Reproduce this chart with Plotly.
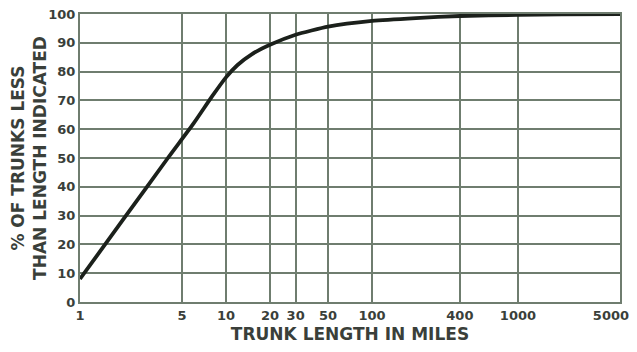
import numpy as np
import plotly.graph_objects as go

# Data
trunk_length = [1, 2, 4, 6, 8, 10, 12, 15, 20, 30, 50, 100, 200, 400, 1000, 2000, 5000]
pct_less = [8, 29, 50, 62, 71.3, 78, 82.3, 86, 89.3, 92.8, 95.6, 97.6, 98.6, 99.3, 99.7, 99.9, 100]

x_tickvals = [1, 5, 10, 20, 30, 50, 100, 400, 1000, 5000]
# the last label carries trailing no-break spaces so its digits stay inside the window
x_ticktext = ["1", "5", "10", "20", "30", "50", "100", "400", "1000", "5000\u00a0\u00a0\u00a0\u00a0"]
y_tickvals = [0, 10, 20, 30, 40, 50, 60, 70, 80, 90, 100]

grid_col = "#6f7d6f"
text_col = "#3a3f3a"
font_fam = "DejaVu Sans, Arial, sans-serif"

fig = go.Figure()
fig.add_trace(go.Scatter(
    x=trunk_length, y=pct_less, mode="lines",
    line=dict(color="#1b201b", width=3.8, shape="spline", smoothing=0.5),
    showlegend=False, hoverinfo="skip", cliponaxis=False,
))

# page body has an 8px margin, so the figure is sized to fit the window
fig.update_layout(
    width=629, height=336,
    margin=dict(l=72, r=17, t=6, b=42),
    paper_bgcolor="white", plot_bgcolor="white",
    font=dict(family=font_fam, color=text_col),
)
fig.update_xaxes(
    type="log", range=[0, np.log10(5000)], automargin=False,
    tickvals=x_tickvals, ticktext=x_ticktext, ticklabeloverflow="allow",
    showgrid=True, gridcolor=grid_col, gridwidth=1.6,
    showline=True, linecolor=grid_col, linewidth=2, mirror=True,
    zeroline=False, ticks="", ticklen=0,
    tickfont=dict(size=13, family=font_fam, color=text_col, weight="bold"),
    title=dict(text="<b>TRUNK LENGTH IN MILES</b>", font=dict(size=17, color=text_col), standoff=10),
)
fig.update_yaxes(
    range=[0, 100], tickvals=y_tickvals, automargin=False, ticklabeloverflow="allow",
    showgrid=True, gridcolor=grid_col, gridwidth=1.6,
    showline=True, linecolor=grid_col, linewidth=2, mirror=True,
    zeroline=False, ticks="", ticklen=0,
    tickfont=dict(size=13, family=font_fam, color=text_col, weight="bold"),
    title=dict(text="<b>% OF TRUNKS LESS<br>THAN LENGTH INDICATED</b>", font=dict(size=17, color=text_col), standoff=6),
)

fig.write_html("out.html")
